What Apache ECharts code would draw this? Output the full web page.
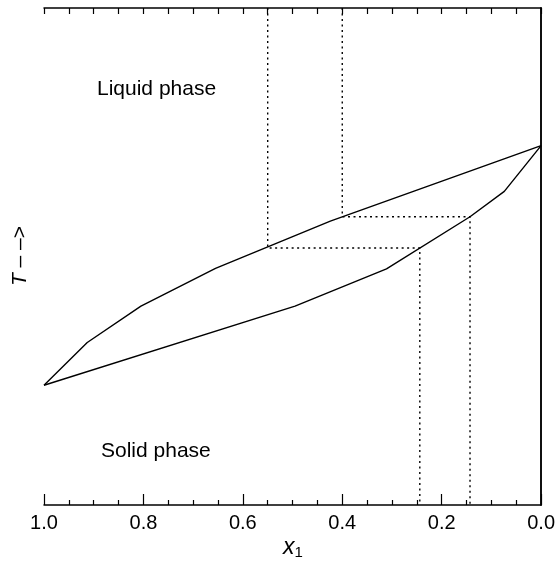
<!DOCTYPE html>
<html><head><meta charset="utf-8">
<script src="https://cdn.jsdelivr.net/npm/echarts@6/dist/echarts.min.js"></script>
<style>html,body{margin:0;padding:0;background:#fff}#c{width:558px;height:571px}</style>
</head><body><div id="c"></div>
<script>
// x1 composition (axis reversed: 1.0 at left, 0.0 at right); T in arbitrary units 0..100
const liquidusX = [1.0, 0.913, 0.805, 0.655, 0.424, 0.0];
const liquidusT = [24.1, 32.7, 40.0, 47.6, 57.1, 72.3];
const solidusX = [1.0, 0.495, 0.311, 0.143, 0.074, 0.0];
const solidusT = [24.1, 40.0, 47.5, 58.0, 63.1, 72.3];
// tie-line constructions (dotted)
const tie1X = [0.55, 0.55, 0.244, 0.244];
const tie1T = [100, 51.7, 51.7, 0];
const tie2X = [0.4, 0.4, 0.143, 0.143];
const tie2T = [100, 58.0, 58.0, 0];
const xTicks = [1.0, 0.8, 0.6, 0.4, 0.2, 0.0];

const zip = (a, b) => a.map((v, i) => [v, b[i]]);
const font = '"Liberation Sans", Arial, Helvetica, sans-serif';
const chart = echarts.init(document.getElementById('c'), null, {renderer: 'canvas'});
const baseAxis = {
  type: 'value', min: 0, max: 1, interval: 0.2, inverse: true,
  axisLine: {show: true, onZero: false, lineStyle: {color: '#000', width: 1.5}},
  splitLine: {show: false}, minorSplitLine: {show: false}
};
chart.setOption({
  animation: false,
  grid: {left: 44, right: 13, top: 8, bottom: 66, containLabel: false},
  xAxis: [
    Object.assign({}, baseAxis, {position: 'bottom',
      axisTick: {show: true, inside: true, length: 11, lineStyle: {color: '#000', width: 1.2}},
      minorTick: {show: true, splitNumber: 4, length: 5, lineStyle: {color: '#000', width: 1.2}},
      axisLabel: {show: true, inside: false, color: '#000', fontSize: 20, fontFamily: font, margin: 8,
        formatter: v => xTicks.find(t => Math.abs(t - v) < 1e-9) !== undefined ? v.toFixed(1) : ''}}),
    Object.assign({}, baseAxis, {position: 'top', axisLabel: {show: false},
      axisTick: {show: true, inside: true, length: 6, lineStyle: {color: '#000', width: 1.2}},
      minorTick: {show: true, splitNumber: 4, length: 6, lineStyle: {color: '#000', width: 1.2}}})
  ],
  yAxis: [
    {type: 'value', min: 0, max: 100, position: 'left', axisLine: {show: true, lineStyle: {color: '#000', width: 1.5}},
     axisTick: {show: false}, axisLabel: {show: false}, splitLine: {show: false}},
    {type: 'value', min: 0, max: 100, position: 'right', axisLine: {show: true, lineStyle: {color: '#000', width: 1.5}},
     axisTick: {show: false}, axisLabel: {show: false}, splitLine: {show: false}}
  ],
  series: [
    {type: 'line', data: zip(liquidusX, liquidusT), symbol: 'none', lineStyle: {color: '#000', width: 1.4}},
    {type: 'line', data: zip(solidusX, solidusT), symbol: 'none', lineStyle: {color: '#000', width: 1.4}},
    {type: 'line', data: zip(tie1X, tie1T), symbol: 'none', lineStyle: {color: '#000', width: 1.4, type: [2, 3.5]}},
    {type: 'line', data: zip(tie2X, tie2T), symbol: 'none', lineStyle: {color: '#000', width: 1.4, type: [2, 3.5]}}
  ],
  graphic: [
    {type: 'text', left: 97, top: 79, style: {text: 'Liquid phase', font: '21px ' + font, fill: '#000'}},
    {type: 'text', left: 101, top: 441, style: {text: 'Solid phase', font: '21px ' + font, fill: '#000'}},
    {type: 'text', x: 20, y: 256, rotation: Math.PI / 2, style: {
      text: '{i|T}{n| – –>}', align: 'center', verticalAlign: 'middle',
      rich: {i: {font: 'italic 21px ' + font, fill: '#000'}, n: {font: '21px ' + font, fill: '#000'}}}},
    {type: 'text', x: 293, y: 548, style: {
      text: '{i|x}{s|1}', align: 'center', verticalAlign: 'middle',
      rich: {i: {font: 'italic 23px ' + font, fill: '#000'}, s: {font: '15px ' + font, fill: '#000', padding: [10, 0, 0, 0]}}}}
  ]
});
</script></body></html>
